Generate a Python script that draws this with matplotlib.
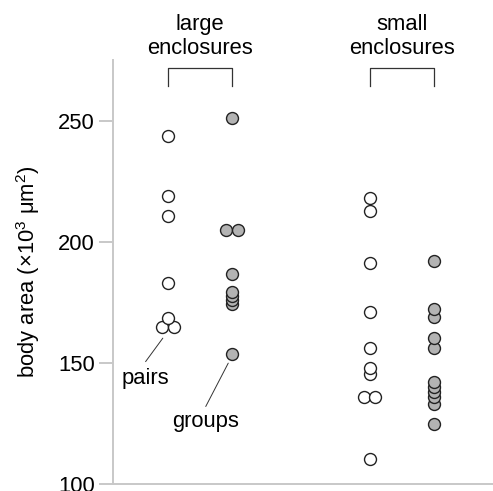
import matplotlib
matplotlib.use("Agg")
import matplotlib.pyplot as plt
import matplotlib.transforms as mtransforms
import numpy as np

plt.rcParams["font.family"] = ["Liberation Sans", "DejaVu Sans"]
plt.rcParams["mathtext.default"] = "regular"

# body area (x10^3 um^2) per individual, by enclosure size and social setting
large_pairs = [243.7, 218.9, 210.7, 183.2, 168.5, 164.8, 164.8]
large_groups = [251.0, 204.9, 204.9, 186.7, 179.5, 177.8, 176.0, 174.3, 153.8]
small_pairs = [218.0, 212.7, 191.2, 171.0, 156.4, 148.1, 145.4, 136.1, 136.1, 110.3]
small_groups = [192.1, 172.2, 169.1, 160.2, 156.4, 142.0, 140.0, 138.0, 136.0, 133.3, 124.9]

enclosures = ["large\nenclosures", "small\nenclosures"]
y_ticks = [100, 150, 200, 250]

positions = [1.0, 2.0, 4.15, 5.15]
series = [large_pairs, large_groups, small_pairs, small_groups]
fills = ["white", "#b3b3b3", "white", "#b3b3b3"]

axis_grey = "#c8c8c8"
edge = "#222222"
STEP = 0.18

fig = plt.figure(figsize=(4.93, 4.91), dpi=100)
ax = fig.add_axes([113 / 493, 0.01365, 1 - 113 / 493, 0.8642])


def spread(values, pos, step=STEP):
    """Place tied values side by side, centred on the column."""
    xs = []
    for i, v in enumerate(values):
        same = [j for j, w in enumerate(values) if w == v]
        k = same.index(i)
        xs.append(pos + (k - (len(same) - 1) / 2) * step)
    return np.array(xs)


for vals, pos, fc in zip(series, positions, fills):
    vals = np.sort(np.array(vals))  # draw low values first so higher ones sit on top
    xs = spread(list(vals), pos)
    for x, v in zip(xs, vals):
        ax.plot(x, v, "o", ms=8.6, mfc=fc, mec=edge, mew=1.0, clip_on=False, zorder=3)

# brackets and headers over each enclosure pair
trans = ax.get_xaxis_transform()
for i, label in enumerate(enclosures):
    x0, x1 = positions[2 * i], positions[2 * i + 1]
    ax.plot([x0, x0, x1, x1], [0.9387, 0.9811, 0.9811, 0.9387], color="#333333",
            lw=0.9, transform=trans, clip_on=False)
    ax.annotate(label, xy=((x0 + x1) / 2, 1), xycoords=("data", "axes fraction"),
                xytext=(0, 4.3), textcoords="offset points", ha="center",
                va="baseline", fontsize=15.8, linespacing=1.2)


def offset(dx, dy):
    return mtransforms.offset_copy(ax.transData, fig=fig, x=dx, y=dy, units="points")


# call-out labels for the two social settings
callouts = [
    ((positions[0] - STEP / 2, min(large_pairs)), (0.4, -7.9), (-12.0, -24.8), "pairs", (-12.4, -40.8)),
    ((positions[1], min(large_groups)), (-2.7, -6.7), (-18.9, -37.9), "groups", (-19.2, -52.6)),
]
for pt, start, end, txt, tpos in callouts:
    ax.annotate("", xy=pt, xycoords=offset(*start), xytext=pt, textcoords=offset(*end),
                arrowprops=dict(arrowstyle="-", color="#333333", lw=0.7,
                                shrinkA=0, shrinkB=0))
    ax.annotate(txt, xy=pt, xytext=tpos, textcoords="offset points",
                ha="center", va="baseline", fontsize=15.8)

ax.set_xlim(0.14, 6.08)
ax.set_ylim(100, 275)
ax.set_yticks(y_ticks)
ax.set_xticks([])
ax.tick_params(axis="y", length=10, width=1.4, color=axis_grey, pad=3, labelsize=15.8)
ax.spines[["top", "right"]].set_visible(False)
for s in ["left", "bottom"]:
    ax.spines[s].set_color(axis_grey)
    ax.spines[s].set_linewidth(1.4)

ax.set_ylabel("body area (×10$^3$ μm$^2$)", fontsize=15.8, labelpad=12)

fig.savefig("out.png", dpi=100)
